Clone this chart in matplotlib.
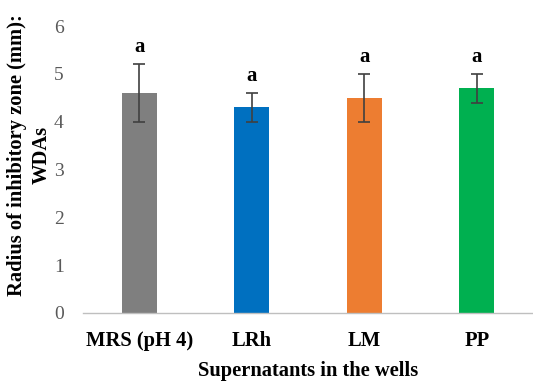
import matplotlib

matplotlib.use("Agg")
import matplotlib.pyplot as plt

# Supernatant groups and measured inhibitory-zone radius (mm)
groups = ["MRS (pH 4)", "LRh", "LM", "PP"]
means = [4.6, 4.3, 4.5, 4.7]
err_low = [0.6, 0.3, 0.5, 0.3]
err_high = [0.6, 0.3, 0.5, 0.3]
letters = ["a", "a", "a", "a"]
colors = ["#7f7f7f", "#0070c0", "#ed7d31", "#00b050"]

plt.rcParams["font.family"] = ["Liberation Serif", "DejaVu Serif"]

fig = plt.figure(figsize=(5.33, 3.83), dpi=100)
ax = fig.add_axes([0.156, 0.183, 0.844, 0.749])

xs = list(range(len(groups)))
ax.bar(xs, means, width=0.31, color=colors, zorder=2)
ax.errorbar(xs, means, yerr=[err_low, err_high], fmt="none",
            ecolor="#404040", elinewidth=1.2, capsize=4, capthick=1.2, zorder=3)

for x, m, e, t in zip(xs, means, err_high, letters):
    ax.text(x, m + e + 0.15, t, ha="center", va="bottom",
            fontsize=15, fontweight="bold")

ax.set_xlim(-0.5, 3.5)
ax.set_ylim(0, 6)
ax.set_yticks(range(0, 7))
ax.set_xticks(xs)
ax.set_xticklabels(groups, fontsize=14.8, fontweight="bold")
ax.tick_params(axis="x", length=0, pad=13)
ax.tick_params(axis="y", length=0, labelsize=14, labelcolor="#595959", pad=14)

for side in ["top", "right", "left"]:
    ax.spines[side].set_visible(False)
ax.spines["bottom"].set_color("#bfbfbf")
ax.spines["bottom"].set_linewidth(1.0)

ax.set_xlabel("Supernatants in the wells", fontsize=14.8, fontweight="bold", labelpad=7)
fig.text(0.055, 0.595, "Radius of inhibitory zone (mm):\nWDAs", rotation=90,
         ha="center", va="center", multialignment="center",
         fontsize=14.8, fontweight="bold", linespacing=1.3)

fig.savefig("out.png", dpi=100)
